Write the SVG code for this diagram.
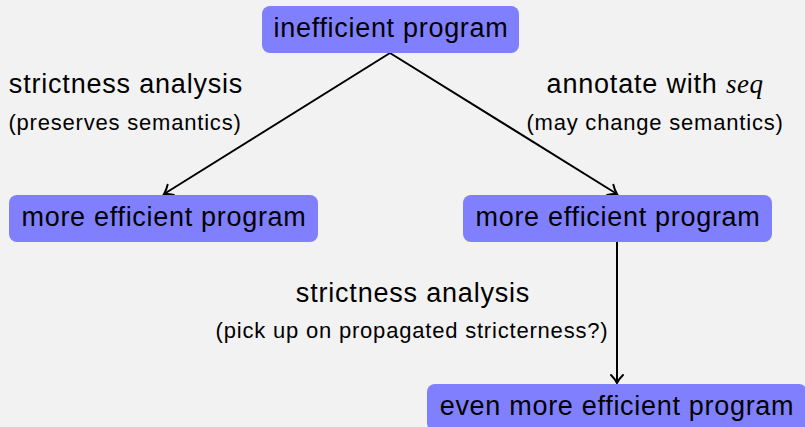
<svg xmlns="http://www.w3.org/2000/svg" width="805" height="427" viewBox="0 0 805 427">
<defs>
<style>
.node rect{fill:#8080ff;}
.nt{font-family:"Liberation Sans",Arial,sans-serif;font-size:27px;letter-spacing:0.7px;fill:#000;text-anchor:middle;}
.lb{font-family:"Liberation Sans",Arial,sans-serif;font-size:27px;letter-spacing:0.8px;fill:#000;text-anchor:middle;}
.sm{font-family:"Liberation Sans",Arial,sans-serif;font-size:22px;letter-spacing:0.8px;fill:#000;text-anchor:middle;}
.math{font-family:"Liberation Serif","Times New Roman",serif;font-style:italic;letter-spacing:0.5px;}
.edge{stroke:#000;stroke-width:2;fill:none;marker-end:url(#arr);}
</style>
<marker id="arr" markerUnits="userSpaceOnUse" markerWidth="20" markerHeight="20" refX="0" refY="0" viewBox="-10 -10 20 20" orient="auto" overflow="visible">
<path d="M-8,-6 C-5,-3 -2,-1 0,0 C-2,1 -5,3 -8,6" fill="none" stroke="#000" stroke-width="2" stroke-linecap="round"/>
</marker>
</defs>
<rect x="0" y="0" width="805" height="427" fill="#f2f2f2"/>
<g id="connectors">
<line class="edge" x1="390" y1="53" x2="164" y2="194"/>
<line class="edge" x1="390" y1="53" x2="617" y2="194"/>
<line class="edge" x1="617" y1="242" x2="617" y2="383"/>
</g>
<g id="labels">
<text class="lb" x="126" y="93">strictness analysis</text>
<text class="sm" x="125" y="130">(preserves semantics)</text>
<text class="lb" x="655" y="93">annotate with <tspan class="math">seq</tspan></text>
<text class="sm" x="655" y="130">(may change semantics)</text>
<text class="lb" x="413" y="302">strictness analysis</text>
<text class="sm" x="412" y="338">(pick up on propagated stricterness?)</text>
</g>
<g id="n-inefficient" class="node">
<rect x="262" y="6" width="257" height="47" rx="8"/>
<text class="nt" x="391" y="37">inefficient program</text>
</g>
<g id="n-more-left" class="node">
<rect x="9" y="195" width="309" height="47" rx="8"/>
<text class="nt" x="164" y="226">more efficient program</text>
</g>
<g id="n-more-right" class="node">
<rect x="463" y="195" width="309" height="47" rx="8"/>
<text class="nt" x="618" y="226">more efficient program</text>
</g>
<g id="n-even-more" class="node">
<rect x="427" y="384" width="380" height="47" rx="8"/>
<text class="nt" x="617" y="415">even more efficient program</text>
</g>
</svg>
